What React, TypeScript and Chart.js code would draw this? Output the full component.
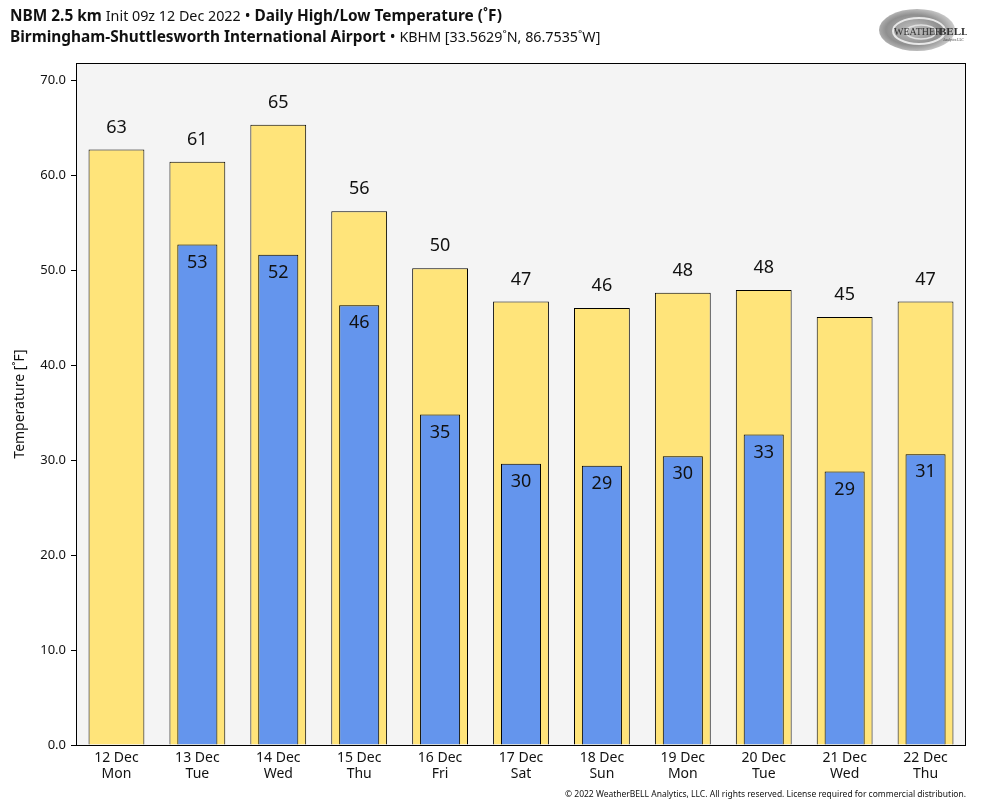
import React, { useEffect, useRef } from "react";
import { Chart, registerables } from "chart.js";

Chart.register(...registerables);

const dates = ["12 Dec", "13 Dec", "14 Dec", "15 Dec", "16 Dec", "17 Dec", "18 Dec", "19 Dec", "20 Dec", "21 Dec", "22 Dec"];
const weekdays = ["Mon", "Tue", "Wed", "Thu", "Fri", "Sat", "Sun", "Mon", "Tue", "Wed", "Thu"];
const highTemps = [62.7, 61.4, 65.3, 56.2, 50.2, 46.7, 46.0, 47.6, 47.9, 45.05, 46.7];
const lowTemps: (number | null)[] = [null, 52.7, 51.6, 46.3, 34.8, 29.6, 29.4, 30.4, 32.7, 28.8, 30.6];
const yMin = 0;
const yMax = 71.8;
const yStep = 10;

const FONT = "'Noto Sans', 'Open Sans', sans-serif";

const frame = {
  id: "frame",
  beforeDatasetsDraw(chart: any) {
    const { ctx, chartArea: a } = chart;
    ctx.save();
    ctx.fillStyle = "#f4f4f4";
    ctx.fillRect(a.left, a.top, a.right - a.left, a.bottom - a.top);
    ctx.restore();
  },
  afterDatasetsDraw(chart: any) {
    const { ctx, chartArea: a } = chart;
    ctx.save();
    ctx.strokeStyle = "#000";
    ctx.lineWidth = 1;
    ctx.strokeRect(a.left + 0.5, a.top + 0.5, a.right - a.left - 1, a.bottom - a.top);
    ctx.fillStyle = "#111";
    ctx.font = `18px ${FONT}`;
    ctx.textAlign = "center";
    ctx.textBaseline = "middle";
    chart.data.datasets.forEach((ds: any, i: number) => {
      const meta = chart.getDatasetMeta(i);
      meta.data.forEach((bar: any, j: number) => {
        const v = ds.data[j];
        if (v == null) return;
        const y = ds.label === "High" ? bar.y - 22 : bar.y + 18;
        ctx.fillText(String(Math.round(v)), bar.x, y);
      });
    });
    ctx.restore();
  },
};

export default function App() {
  const ref = useRef<HTMLCanvasElement>(null);
  useEffect(() => {
    const chart = new Chart(ref.current!, {
      type: "bar",
      data: {
        labels: dates.map((d, i) => [d, weekdays[i]]),
        datasets: [
          {
            label: "Low",
            data: lowTemps,
            backgroundColor: "#6495ed",
            borderColor: "#000",
            borderWidth: 1,
            barPercentage: 0.495,
            categoryPercentage: 1,
            grouped: false,
            order: 0,
          } as any,
          {
            label: "High",
            data: highTemps,
            backgroundColor: "#ffe47a",
            borderColor: "#000",
            borderWidth: 1,
            barPercentage: 0.69,
            categoryPercentage: 1,
            grouped: false,
            order: 1,
          } as any,
        ],
      },
      options: {
        responsive: false,
        animation: false,
        devicePixelRatio: 1,
        layout: { padding: { top: 63, right: 18, left: 0, bottom: 0 } },
        plugins: { legend: { display: false }, tooltip: { enabled: false } },
        scales: {
          x: {
            grid: { display: false },
            border: { display: false },
            ticks: { color: "#111", font: { family: FONT, size: 14, lineHeight: 1.15 }, padding: -3, maxRotation: 0 },
            afterFit: (s: any) => { s.height = 63; },
          },
          y: {
            min: yMin,
            max: yMax,
            grid: { drawOnChartArea: false, drawTicks: true, tickLength: 5, color: "#000" },
            border: { display: false },
            ticks: {
              stepSize: yStep,
              includeBounds: false,
              color: "#111",
              padding: 5,
              font: { family: FONT, size: 13 },
              callback: (v: any) => Number(v).toFixed(1),
            },
            title: { display: true, text: "Temperature [˚F]", color: "#111", font: { family: FONT, size: 14 }, padding: { top: 12, bottom: 4 } },
            afterFit: (s: any) => { s.width = 76; },
          },
        },
      },
      plugins: [frame],
    } as any);
    return () => chart.destroy();
  }, []);

  return (
    <div style={{ position: "absolute", left: 0, top: 0, width: 984, height: 808, background: "#fff", fontFamily: FONT, color: "#111" }}>
      <canvas ref={ref} width={984} height={808} style={{ position: "absolute", left: 0, top: 0 }} />
      <div style={{ position: "absolute", left: 10, top: 5, fontSize: 15.4, lineHeight: "21px", whiteSpace: "nowrap" }}>
        <div>
          <b>NBM 2.5 km</b> <span style={{ fontSize: 14.3 }}>Init 09z 12 Dec 2022</span> • <b>Daily High/Low Temperature (˚F)</b>
        </div>
        <div>
          <b>Birmingham-Shuttlesworth International Airport</b> • <span style={{ fontSize: 14.3 }}>KBHM [33.5629˚N, 86.7535˚W]</span>
        </div>
      </div>
      <svg width={90} height={50} viewBox="0 0 90 50" style={{ position: "absolute", left: 877, top: 5 }}>
        <defs>
          <radialGradient id="g" cx="0.45" cy="0.5" r="0.6">
            <stop offset="0" stopColor="#c4c4c4" />
            <stop offset="0.6" stopColor="#8f8f8f" />
            <stop offset="1" stopColor="#dcdcdc" />
          </radialGradient>
        </defs>
        <ellipse cx={40} cy={25} rx={38} ry={21} fill="url(#g)" />
        <ellipse cx={42} cy={26} rx={26} ry={13} fill="none" stroke="#e8e8e8" strokeWidth={2} />
        <ellipse cx={44} cy={27} rx={15} ry={7} fill="none" stroke="#e0e0e0" strokeWidth={1.5} />
        <text x={17} y={30} fontFamily="'Liberation Serif', serif" fontSize={10} fill="#333">WEATHER</text>
        <text x={62} y={30} fontFamily="'Liberation Serif', serif" fontSize={11} fontWeight="bold" fill="#333">BELL</text>
        <text x={66} y={36} fontFamily="'Liberation Serif', serif" fontSize={3.5} fill="#333">Analytics LLC</text>
      </svg>
      <div style={{ position: "absolute", right: 18, top: 788, fontSize: 8.5, whiteSpace: "nowrap" }}>
        © 2022 WeatherBELL Analytics, LLC. All rights reserved. License required for commercial distribution.
      </div>
    </div>
  );
}
